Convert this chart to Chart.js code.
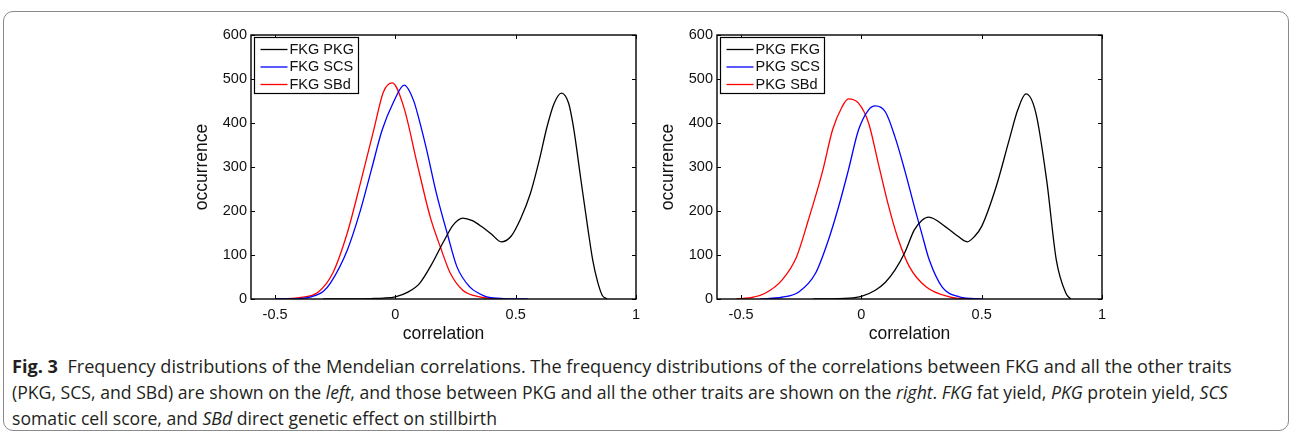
<!DOCTYPE html>
<html>
<head>
<meta charset="utf-8">
<script src="https://cdn.jsdelivr.net/npm/chart.js@4.4.1/dist/chart.umd.min.js"></script>
<style>
  html, body { margin: 0; padding: 0; background: #fff; }
  body { width: 1292px; height: 436px; position: relative; overflow: hidden; }
  #frame { position: absolute; left: 3px; top: 11px; width: 1286px; height: 420px; box-sizing: border-box;
           border: 1px solid #8a8a8a; border-radius: 10px; }
  canvas { position: absolute; top: 0; }
  #c1 { left: 150px; }
  #c2 { left: 616px; }
  .cap { position: absolute; left: 12px; white-space: nowrap; font-family: "Open Sans", "Noto Sans", sans-serif;
         font-size: 18px; line-height: 26px; color: #231f20; transform-origin: 0 50%; }
  .cap b { font-weight: 700; }
</style>
</head>
<body>
<div id="frame"></div>
<canvas id="c1" width="500" height="345"></canvas>
<canvas id="c2" width="500" height="345"></canvas>
<div class="cap" id="l1" style="top:353px"><b>Fig. 3</b>&nbsp; Frequency distributions of the Mendelian correlations. The frequency distributions of the correlations between FKG and all the other traits</div>
<div class="cap" id="l2" style="top:379px">(PKG, SCS, and SBd) are shown on the <i>left</i>, and those between PKG and all the other traits are shown on the <i>right</i>. <i>FKG</i> fat yield, <i>PKG</i> protein yield, <i>SCS</i></div>
<div class="cap" id="l3" style="top:405px">somatic cell score, and <i>SBd</i> direct genetic effect on stillbirth</div>
<script>
// ---- Data ----
const xTicks = [-0.5, 0, 0.5, 1];
const xTickLabels = ['-0.5', '0', '0.5', '1'];
const yTicks = [0, 100, 200, 300, 400, 500, 600];

// Left panel: FKG vs other traits
const fkgPkgX = [-0.30,-0.20,-0.10,-0.05,0.00,0.05,0.10,0.15,0.20,0.24,0.28,0.32,0.36,0.40,0.44,0.48,0.52,0.56,0.60,0.63,0.66,0.69,0.72,0.74,0.77,0.80,0.82,0.84,0.86,0.88];
const fkgPkgY = [0,0,1,2,5,15,35,78,130,168,184,178,164,147,130,142,182,238,320,391,445,468,445,391,275,160,89,40,8,0];
const fkgScsX = [-0.50,-0.40,-0.35,-0.30,-0.27,-0.20,-0.145,-0.10,-0.055,-0.01,0.037,0.075,0.10,0.13,0.17,0.215,0.256,0.31,0.35,0.38,0.45,0.55];
const fkgScsY = [0,1,5,17,36,111,202,293,384,445,486,452,405,339,241,150,73,27,12,5,1,0];
const fkgSbdX = [-0.50,-0.40,-0.32,-0.26,-0.20,-0.145,-0.09,-0.05,-0.013,0.035,0.09,0.145,0.187,0.228,0.28,0.35,0.45];
const fkgSbdY = [0,3,16,59,150,264,384,470,491,436,309,186,118,59,20,5,0];

// Right panel: PKG vs other traits
const pkgFkgX = [-0.20,-0.05,0.00,0.058,0.10,0.14,0.18,0.22,0.25,0.28,0.35,0.40,0.44,0.47,0.50,0.56,0.614,0.65,0.684,0.725,0.77,0.81,0.85,0.87];
const pkgFkgY = [0,2,6,20,38,66,105,157,178,186,164,143,130,142,165,255,361,430,466,423,270,89,13,0];
const pkgScsX = [-0.42,-0.33,-0.26,-0.19,-0.137,-0.095,-0.054,-0.012,0.03,0.058,0.10,0.14,0.18,0.224,0.25,0.282,0.336,0.407,0.50];
const pkgScsY = [0,4,16,59,134,209,293,384,430,439,425,368,293,202,151,89,27,5,0];
const pkgSbdX = [-0.52,-0.45,-0.40,-0.33,-0.27,-0.22,-0.16,-0.12,-0.08,-0.054,-0.012,0.03,0.07,0.11,0.15,0.20,0.27,0.365,0.45];
const pkgSbdY = [0,4,13,43,95,180,293,384,437,455,445,400,309,218,141,73,27,5,0];

const leftLabels = ['FKG PKG', 'FKG SCS', 'FKG SBd'];
const rightLabels = ['PKG FKG', 'PKG SCS', 'PKG SBd'];
const colors = ['#000000', '#0000ff', '#ff0000'];

// ---- Chart setup ----
const FONT = "'Liberation Sans', Arial, Helvetica, sans-serif";
const pts = (xs, ys) => xs.map((x, i) => ({ x: x, y: ys[i] }));

const matlabPlugin = {
  id: 'matlabAxes',
  afterDatasetsDraw(chart) {
    const { ctx, chartArea: a, scales: { x, y } } = chart;
    ctx.save();
    ctx.strokeStyle = '#000';
    ctx.lineWidth = 1;
    const tl = 4;
    ctx.beginPath();
    x.ticks.forEach(t => {
      const px = Math.round(x.getPixelForValue(t.value)) + 0.5;
      ctx.moveTo(px, a.bottom); ctx.lineTo(px, a.bottom - tl);
      ctx.moveTo(px, a.top); ctx.lineTo(px, a.top + tl);
    });
    y.ticks.forEach(t => {
      const py = Math.round(y.getPixelForValue(t.value)) + 0.5;
      ctx.moveTo(a.left, py); ctx.lineTo(a.left + tl, py);
      ctx.moveTo(a.right, py); ctx.lineTo(a.right - tl, py);
    });
    ctx.stroke();
    ctx.lineWidth = 1.4;
    ctx.strokeRect(a.left, a.top, a.right - a.left, a.bottom - a.top);

    // legend (MATLAB style, inside top-left)
    ctx.font = '14.5px ' + FONT;
    const labels = chart.data.datasets.map(d => d.label);
    const tw = Math.max(...labels.map(l => ctx.measureText(l).width));
    const bx = a.left + 3.5, by = a.top + 2.5;
    const bw = Math.round(35 + tw + 5), bh = 56;
    ctx.fillStyle = '#fff';
    ctx.fillRect(bx, by, bw, bh);
    ctx.lineWidth = 1.2;
    ctx.strokeRect(bx, by, bw, bh);
    ctx.textBaseline = 'middle';
    ctx.textAlign = 'left';
    chart.data.datasets.forEach((d, i) => {
      const ry = by + 12 + i * 17.5;
      ctx.strokeStyle = d.borderColor;
      ctx.lineWidth = 1.3;
      ctx.beginPath();
      ctx.moveTo(bx + 6, ry); ctx.lineTo(bx + 33, ry);
      ctx.stroke();
      ctx.fillStyle = '#111';
      ctx.fillText(d.label, bx + 35, ry);
    });
    ctx.restore();
  }
};

function makeChart(id, labels, series) {
  return new Chart(document.getElementById(id), {
    type: 'line',
    data: {
      datasets: series.map((s, i) => ({
        label: labels[i],
        data: pts(s[0], s[1]),
        borderColor: colors[i],
        backgroundColor: colors[i],
        borderWidth: 1.3,
        pointRadius: 0,
        fill: false,
        cubicInterpolationMode: 'monotone'
      }))
    },
    options: {
      responsive: false,
      animation: false,
      devicePixelRatio: 1,
      layout: { padding: { left: 0, right: 14, top: 35, bottom: 0 } },
      plugins: { legend: { display: false }, tooltip: { enabled: false } },
      scales: {
        x: {
          type: 'linear', min: -0.6, max: 1,
          afterBuildTicks: sc => { sc.ticks = xTicks.map(v => ({ value: v })); },
          afterFit: sc => { sc.height = 46; },
          grid: { display: false, drawTicks: false },
          border: { display: false },
          ticks: {
            padding: 7, color: '#111', font: { family: FONT, size: 14.5 }, maxRotation: 0, autoSkip: false,
            callback: v => { const k = xTicks.indexOf(v); return k >= 0 ? xTickLabels[k] : ''; }
          },
          title: { display: true, text: 'correlation', color: '#111', font: { family: FONT, size: 17.5 }, padding: { top: 0, bottom: 0 } }
        },
        y: {
          type: 'linear', min: 0, max: 600,
          afterBuildTicks: sc => { sc.ticks = yTicks.map(v => ({ value: v })); },
          afterFit: sc => { sc.width = 101; },
          grid: { display: false, drawTicks: false },
          border: { display: false },
          ticks: { padding: 4, color: '#111', font: { family: FONT, size: 14.5 }, autoSkip: false,
                   callback: v => String(v) },
          title: { display: true, text: 'occurrence', color: '#111', font: { family: FONT, size: 17.5 }, padding: { top: 42, bottom: 0 } }
        }
      }
    },
    plugins: [matlabPlugin]
  });
}

makeChart('c1', leftLabels, [[fkgPkgX, fkgPkgY], [fkgScsX, fkgScsY], [fkgSbdX, fkgSbdY]]);
makeChart('c2', rightLabels, [[pkgFkgX, pkgFkgY], [pkgScsX, pkgScsY], [pkgSbdX, pkgSbdY]]);

// fit caption lines to the reference widths (narrow caption face)
const l1 = document.getElementById('l1'), l2 = document.getElementById('l2'), l3 = document.getElementById('l3');
const s1 = 1220 / l1.scrollWidth, s2 = 1216 / l2.scrollWidth;
l1.style.transform = 'scaleX(' + s1 + ')';
l2.style.transform = 'scaleX(' + s2 + ')';
l3.style.transform = 'scaleX(' + s2 + ')';
</script>
</body>
</html>
